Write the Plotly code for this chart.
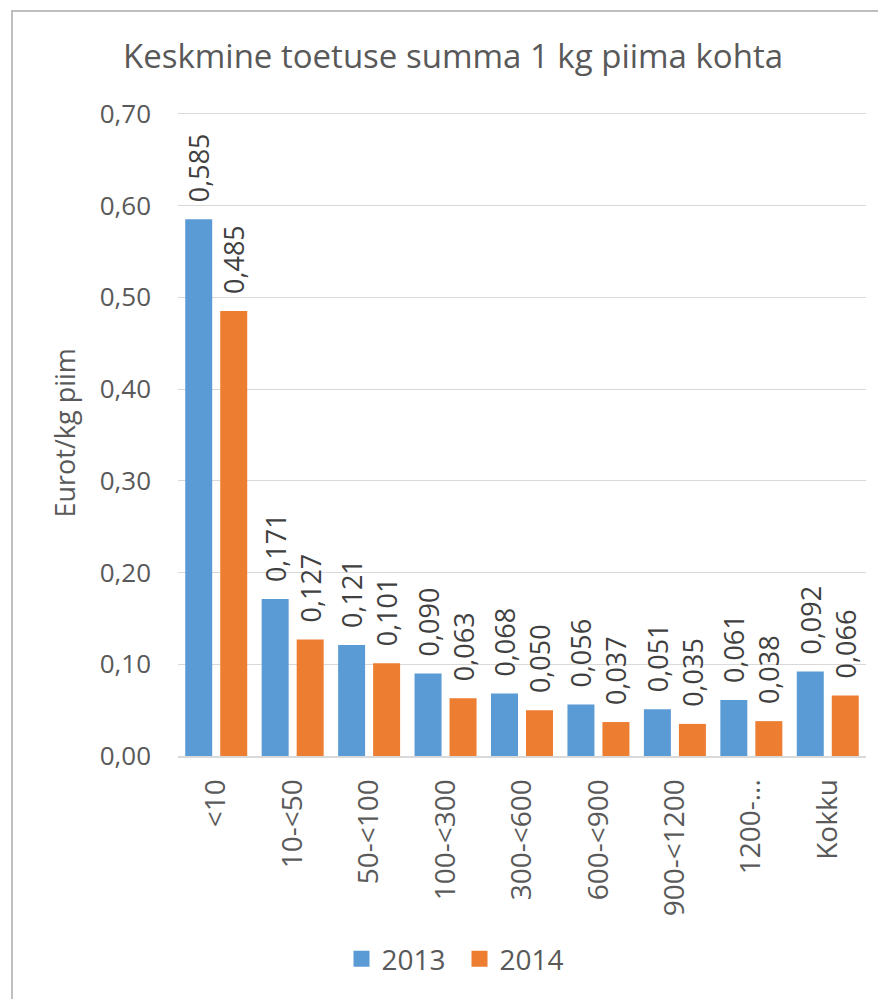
import plotly.graph_objects as go

categories = ["<10", "10-<50", "50-<100", "100-<300", "300-<600", "600-<900", "900-<1200", "1200-...", "Kokku"]
values_2013 = [0.585, 0.171, 0.121, 0.090, 0.068, 0.056, 0.051, 0.061, 0.092]
values_2014 = [0.485, 0.127, 0.101, 0.063, 0.050, 0.037, 0.035, 0.038, 0.066]
series_names = ["2013", "2014"]
series_colors = ["#5B9BD5", "#ED7D31"]
y_ticks = [0.0, 0.1, 0.2, 0.3, 0.4, 0.5, 0.6, 0.7]

def fmt(v, d):
    return f"{v:.{d}f}".replace(".", ",")

# page has an 8px body margin -> figure is 8px smaller than the window
W, H = 878, 991
ml, mr, mt, mb = 170, 20, 103, 243
pw, ph = W - ml - mr, H - mt - mb

FONT = "Open Sans, DejaVu Sans, sans-serif"
GRAY = "#595959"
PAD = "\u00a0\u00a0"

fig = go.Figure()
for name, vals, col in zip(series_names, [values_2013, values_2014], series_colors):
    fig.add_trace(go.Bar(
        x=categories, y=vals, name=name, showlegend=False,
        marker=dict(color=col, line=dict(width=0)),
        text=[PAD + fmt(v, 3) for v in vals], textposition="outside", textangle=-90,
        textfont=dict(size=27, color="#404040", family=FONT),
        cliponaxis=False,
    ))
# legend entries (square symbols)
for name, col in zip(series_names, series_colors):
    fig.add_trace(go.Scatter(
        x=[None], y=[None], mode="markers", name=name, showlegend=True,
        marker=dict(symbol="square", size=17, color=col),
    ))

fig.update_layout(
    width=W, height=H,
    margin=dict(l=ml, r=mr, t=mt, b=mb, autoexpand=False),
    paper_bgcolor="white", plot_bgcolor="white",
    barmode="group", bargap=0.084, bargroupgap=0.229,
    uniformtext=dict(minsize=27, mode="show"),
    title=dict(text="Keskmine toetuse summa 1 kg piima kohta", x=445 / W, xanchor="center",
               xref="container", y=1 - 48 / H, yanchor="middle", yref="container",
               font=dict(size=33, color=GRAY, family=FONT)),
    legend=dict(orientation="h", x=(451.5 - ml) / pw, xanchor="center",
                y=-(951 - (H - mb)) / ph, yanchor="middle",
                font=dict(size=28, color=GRAY, family=FONT), traceorder="normal",
                itemwidth=30, entrywidth=73),
    showlegend=True,
    annotations=[dict(text="Eurot/kg piim", textangle=-90, xref="paper", yref="paper",
                      x=(56 - ml) / pw, y=0.5, xanchor="center", yanchor="middle",
                      showarrow=False, font=dict(size=27, color=GRAY, family=FONT))],
)
fig.update_yaxes(
    range=[0, 0.703], tickvals=y_ticks, ticktext=[fmt(v, 2) for v in y_ticks],
    showgrid=True, gridcolor="#D9D9D9", gridwidth=1, zeroline=False,
    tickfont=dict(size=26, color=GRAY, family=FONT), ticks="", ticklabelstandoff=26,
)
fig.update_xaxes(
    tickangle=-90, tickfont=dict(size=28, color=GRAY, family=FONT),
    showline=True, linecolor="#D9D9D9", linewidth=2, ticks="", ticklabelstandoff=10,
)
# chart frame
fig.add_shape(type="rect", xref="paper", yref="paper",
              x0=(4 - ml) / pw, x1=1 + (mr + 20) / pw,
              y0=-(mb + 20) / ph, y1=1 + (mt - 3) / ph,
              line=dict(color="#BFBFBF", width=2), fillcolor="rgba(0,0,0,0)", layer="below")

fig.write_html("out.html")
